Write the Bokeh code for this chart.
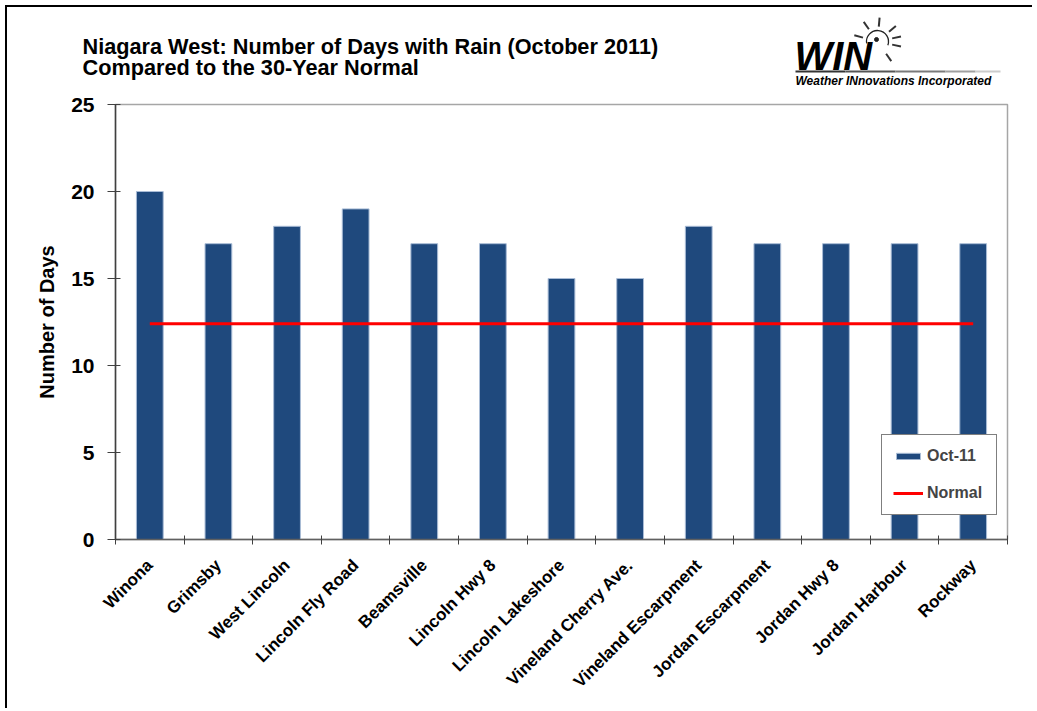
import numpy as np
from math import pi, cos, sin, radians
from bokeh.plotting import figure
from bokeh.layouts import column, row
from bokeh.models import (Range1d, LinearAxis, FixedTicker, Legend, LegendItem, Label)
from bokeh.embed import file_html
from bokeh.resources import INLINE

# ---------------- data ----------------
stations = ["Winona", "Grimsby", "West Lincoln", "Lincoln Fly Road", "Beamsville",
            "Lincoln Hwy 8", "Lincoln Lakeshore", "Vineland Cherry Ave.",
            "Vineland Escarpment", "Jordan Escarpment", "Jordan Hwy 8",
            "Jordan Harbour", "Rockway"]
rain_days_oct11 = [20, 17, 18, 19, 17, 17, 15, 15, 18, 17, 17, 17, 17]
normal_days = 12.4
y_ticks = [0, 5, 10, 15, 20, 25]
series_names = ["Oct-11", "Normal"]
title_lines = ["Niagara West: Number of Days with Rain (October 2011)",
               "Compared to the 30-Year Normal"]
y_label = "Number of Days"
logo_texts = ["WIN", "Weather INnovations Incorporated"]

# ---------------- derived ----------------
n = len(stations)
xs = [i + 0.5 for i in range(n)]
normal = [normal_days] * n
FONT = "Liberation Sans"
BAR = "#1F497D"
W = 1025
BL, BR = 108, 25

# ---------------- header (title + logo), pixel coordinates ----------------
HH = 84
hdr = figure(width=W, height=HH, x_range=Range1d(0, W), y_range=Range1d(0, HH),
             output_backend="svg", toolbar_location=None, x_axis_type=None,
             y_axis_type=None, min_border=0)
hdr.outline_line_color = None
hdr.xgrid.grid_line_color = None
hdr.ygrid.grid_line_color = None
for txt, yy in zip(title_lines, [45, 24]):
    hdr.add_layout(Label(x=75, y=yy, text=txt, text_font=FONT, text_font_style="bold",
                         text_font_size="21.7px", text_color="black",
                         text_baseline="alphabetic"))
hdr.add_layout(Label(x=787, y=36, text=logo_texts[0], text_font=FONT,
                     text_font_style="bold italic", text_font_size="40px",
                     text_color="black", text_baseline="alphabetic"))
hdr.add_layout(Label(x=788, y=11, text=logo_texts[1], text_font=FONT,
                     text_font_style="bold italic", text_font_size="12px",
                     text_color="black", text_baseline="alphabetic"))
seg_x = [788, 838, 888, 938, 968]
seg_c = ["#333333", "#555555", "#7a7a7a", "#a0a0a0", "#cccccc"]
for i, c in enumerate(seg_c):
    x1 = seg_x[i + 1] if i + 1 < len(seg_x) else 993
    hdr.segment(x0=[seg_x[i]], y0=[20], x1=[x1], y1=[20], line_color=c, line_width=2)
cx, cy = 870, 50
hdr.arc(x=[cx], y=[cy], radius=11, start_angle=radians(-20), end_angle=radians(190),
        line_color="#222222", line_width=1.3)
hdr.scatter(x=[cx - 1], y=[cy + 2], size=4, color="#222222")
ang = [165, 125, 85, 40, 12, -12, -55]
r0, r1 = 15, 24
hdr.segment(x0=[cx + r0 * cos(radians(a)) for a in ang],
            y0=[cy + r0 * sin(radians(a)) for a in ang],
            x1=[cx + r1 * cos(radians(a)) for a in ang],
            y1=[cy + r1 * sin(radians(a)) for a in ang],
            line_color="#333333", line_width=2)

# ---------------- main chart ----------------
p = figure(width=W, height=617, x_range=Range1d(0, n), y_range=Range1d(0, 25),
           output_backend="svg", toolbar_location=None, x_axis_type=None,
           min_border_left=BL, min_border_right=BR, min_border_top=13,
           min_border_bottom=169)
p.background_fill_color = "white"
p.border_fill_color = "white"
p.outline_line_color = "#a6a6a6"
p.outline_line_width = 1.5
p.ygrid.grid_line_color = None

bars = p.vbar(x=xs, top=rain_days_oct11, width=0.39, fill_color=BAR,
              line_color="#a9bcd6", line_width=1)
line = p.line(xs, normal, line_color="#FF0000", line_width=3)

ya = p.yaxis[0]
ya.ticker = FixedTicker(ticks=y_ticks)
ya.axis_line_color = "#404040"
ya.axis_line_width = 1.5
ya.major_tick_line_color = "#404040"
ya.major_tick_out = 8
ya.major_tick_in = 5
ya.minor_tick_line_color = None
ya.major_label_standoff = 13
ya.major_label_text_font = FONT
ya.major_label_text_font_style = "bold"
ya.major_label_text_font_size = "21px"
ya.major_label_text_color = "black"
ya.axis_label = y_label
ya.axis_label_text_font = FONT
ya.axis_label_text_font_style = "bold"
ya.axis_label_text_font_size = "20px"
ya.axis_label_text_color = "black"
ya.axis_label_standoff = 10

overrides = {}
for x, name in zip(xs, stations):
    overrides[float(x)] = name
    overrides[str(x)] = name
xa = LinearAxis(ticker=FixedTicker(ticks=xs, minor_ticks=list(range(n + 1))),
                major_label_overrides=overrides)
xa.axis_line_color = "#606060"
xa.axis_line_width = 1.5
xa.major_tick_line_color = None
xa.major_tick_out = 0
xa.major_tick_in = 0
xa.minor_tick_line_color = "#404040"
xa.minor_tick_out = 5
xa.minor_tick_in = 4
xa.major_label_orientation = pi / 4
xa.major_label_standoff = 18
xa.major_label_text_font = FONT
xa.major_label_text_font_style = "bold"
xa.major_label_text_font_size = "17px"
xa.major_label_text_color = "black"
p.add_layout(xa, "below")

legend = Legend(items=[LegendItem(label=series_names[0], renderers=[bars]),
                       LegendItem(label=series_names[1], renderers=[line])],
                location=(766, 24))
legend.label_text_font = FONT
legend.label_text_font_style = "bold"
legend.label_text_font_size = "16px"
legend.glyph_width = 30
legend.glyph_height = 8
legend.label_height = 20
legend.label_width = 58
legend.spacing = 17
legend.padding = 11
legend.margin = 0
legend.label_standoff = 4
legend.border_line_color = "black"
legend.border_line_width = 1
legend.background_fill_color = "white"
legend.background_fill_alpha = 1
p.add_layout(legend)

layout = column(row(hdr), p, spacing=0, margin=(5, 0, 0, 5),
                styles={"border-left": "2px solid black", "border-top": "2px solid black"})

open("out.html", "w").write(file_html(layout, INLINE))
